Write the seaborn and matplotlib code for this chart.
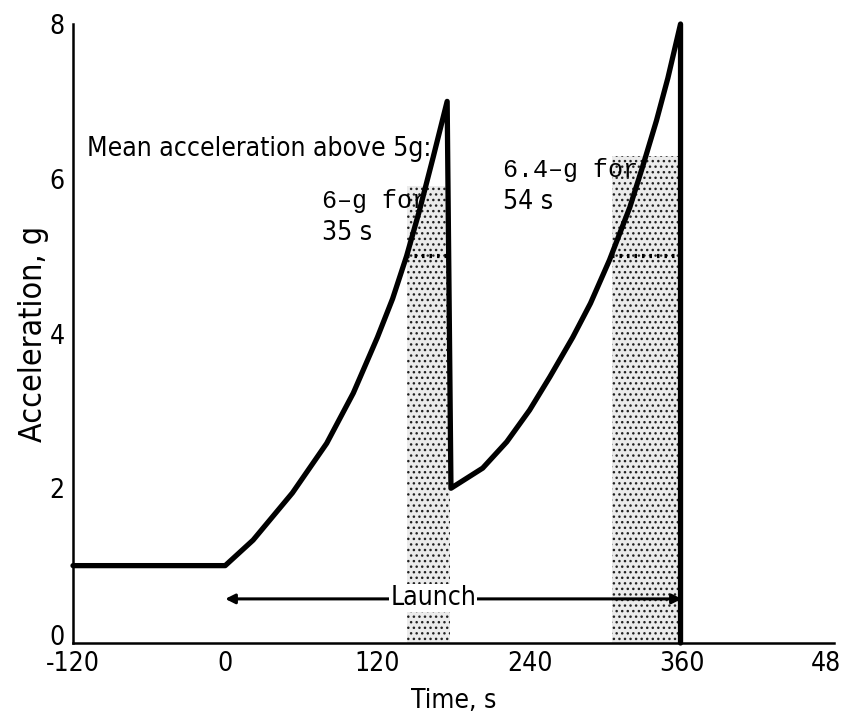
import numpy as np
import pandas as pd
import matplotlib
matplotlib.use('Agg')
import matplotlib.pyplot as plt
import matplotlib.font_manager as fm
import matplotlib.transforms as mtransforms
import seaborn as sns

# acceleration profile (time in s, acceleration in g)
time_s = [-120, 0, 22, 53, 80, 101, 120, 132, 143, 153, 164, 175,
          178, 203, 222, 240, 256, 274, 288, 303, 319, 329, 340, 349, 359, 359]
accel_g = [1.0, 1.0, 1.33, 1.94, 2.58, 3.23, 3.95, 4.45, 5.0, 5.58, 6.28, 7.0,
           2.0, 2.26, 2.6, 3.01, 3.44, 3.95, 4.39, 4.95, 5.63, 6.15, 6.75, 7.3, 8.0, 0.0]

# shaded periods above 5 g
band_start = [143, 305]
band_end = [177, 359]
band_top = [5.9, 6.3]
band_labels = [['6\u2013g for', '35 s'], ['6.4\u2013g for', '54 s']]
label_pos = [(76, 5.62), (219, 6.02)]

x_ticks = [-120, 0, 120, 240, 360, 480]
y_ticks = [0, 2, 4, 6, 8]

sns.set_theme(style='white')

names = {f.name for f in fm.fontManager.ttflist}
if 'Liberation Sans Narrow' in names:
    narrow = dict(family='Liberation Sans Narrow')
else:
    narrow = dict(family='DejaVu Sans', stretch='condensed')
mono = 'Liberation Mono' if 'Liberation Mono' in names else 'DejaVu Sans Mono'

fig = plt.figure(figsize=(8.41, 7.14), dpi=100)
ax = fig.add_axes([73 / 841, 71 / 714, 761 / 841, 619 / 714])

df = pd.DataFrame({'t': time_s, 'g': accel_g})

for s, e, top in zip(band_start, band_end, band_top):
    ax.fill_between([s, e], 0, top, facecolor='#ebebeb', edgecolor='#222222',
                    hatch='...', linewidth=0, zorder=1)
    ax.plot([s, e], [5, 5], color='black', linestyle=(0, (0.6, 1.2)),
            linewidth=3, zorder=2)

sns.lineplot(data=df, x='t', y='g', sort=False, estimator=None, color='black',
             linewidth=3.8, ax=ax, zorder=3)
for line in ax.lines:
    line.set_solid_joinstyle('round')
    line.set_clip_on(False)

ax.set_xlim(-120, 480)
ax.set_ylim(0, 8)
ax.set_xticks(x_ticks)
ax.set_yticks(y_ticks)
ax.set_xticklabels([str(v) for v in x_ticks], fontsize=19, **narrow)
ax.set_yticklabels([str(v) for v in y_ticks], fontsize=19, **narrow)
ax.tick_params(axis='x', direction='in', length=12, width=1.6, pad=6, colors='black')
ax.tick_params(axis='y', direction='in', length=14, width=1.6, pad=6, colors='black')
# the "0" on the y axis sits a little above the baseline
lab0 = ax.get_yticklabels()[0]
lab0.set_transform(lab0.get_transform() +
                   mtransforms.ScaledTranslation(0, 8 / 100, fig.dpi_scale_trans))
ax.set_xlabel('Time, s', fontsize=19, labelpad=8, color='black', **narrow)
ax.set_ylabel('Acceleration, g', fontsize=23, labelpad=0, color='black', **narrow)

for side in ['top', 'right']:
    ax.spines[side].set_visible(False)
for side in ['left', 'bottom']:
    ax.spines[side].set_linewidth(1.8)
    ax.spines[side].set_color('black')

ax.text(-109, 6.3, 'Mean acceleration above 5g:', fontsize=19, va='baseline',
        ha='left', color='black', **narrow)
for (x0, y0), (l1, l2) in zip(label_pos, band_labels):
    ax.text(x0, y0, l1, fontsize=18, family=mono, va='baseline', ha='left',
            color='black', zorder=2.5)
    ax.text(x0, y0 - 0.41, l2, fontsize=19, va='baseline', ha='left',
            color='black', zorder=2.5, **narrow)

ax.annotate('', xy=(0, 0.57), xytext=(360, 0.57),
            arrowprops=dict(arrowstyle='<|-|>', color='black', lw=2.2,
                            mutation_scale=14, shrinkA=0, shrinkB=0), zorder=2)
ax.text(164, 0.58, 'Launch', fontsize=19, ha='center', va='center', color='black',
        bbox=dict(facecolor='white', edgecolor='none', pad=1), zorder=4, **narrow)

fig.savefig('out.png', dpi=100)
